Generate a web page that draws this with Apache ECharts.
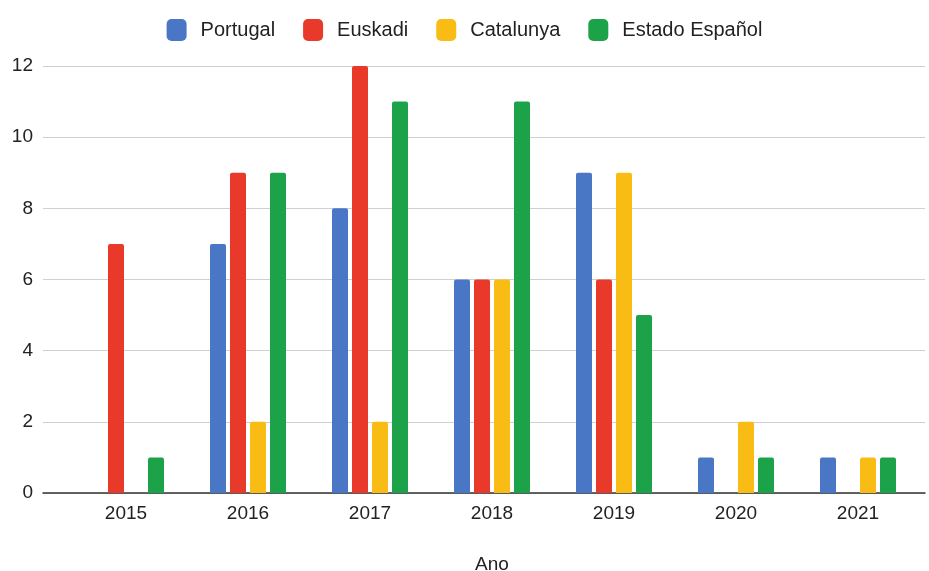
<!DOCTYPE html>
<html><head><meta charset="utf-8">
<script src="https://cdn.jsdelivr.net/npm/echarts@6/dist/echarts.min.js"></script>
<style>html,body{margin:0;padding:0;background:#fff}#c{width:929px;height:571px}</style>
</head><body><div id="c"></div>
<script>
const categories = ['2015','2016','2017','2018','2019','2020','2021'];
const portugal = [0,7,8,6,9,1,1];
const euskadi = [7,9,12,6,6,0,0];
const catalunya = [0,2,2,6,9,2,1];
const estado = [1,9,11,11,5,1,1];
const seriesNames = ['Portugal','Euskadi','Catalunya','Estado Español'];
const colors = ['#4A76C6','#E8392B','#F9BC15','#1CA34A'];
const yTicks = {min:0, max:12, interval:2};

const chart = echarts.init(document.getElementById('c'), null, {renderer:'canvas'});
const font = 'Liberation Sans, Arial, sans-serif';
const mk = (name, data, i) => ({
  name, type:'bar', data: data.map(v => v === 0 ? null : v), xAxisIndex:1, yAxisIndex:1,
  barWidth:16, barGap:'25%', itemStyle:{color:colors[i], borderRadius:[2,2,0,0]}
});
chart.setOption({
  animation:false,
  color: colors,
  textStyle:{fontFamily:font},
  legend:{
    top:14, left:'center', itemWidth:20, itemHeight:22, itemGap:28,
    icon:'roundRect',
    textStyle:{fontSize:20, color:'#222', fontFamily:font, padding:[0,0,0,9]},
    data: seriesNames
  },
  grid:[
    {left:43, right:4, top:66, bottom:78, outerBoundsMode:'none', containLabel:false},
    {left:65, right:10, top:66, bottom:78, outerBoundsMode:'none', containLabel:false}
  ],
  xAxis:[
    {type:'value', gridIndex:0, min:0, max:1, axisLabel:{show:false}, axisTick:{show:false}, splitLine:{show:false},
     axisLine:{show:true, lineStyle:{color:'#333', width:1.5}}},
    {type:'category', gridIndex:1, data:categories, axisTick:{show:false}, axisLine:{show:false},
     axisLabel:{fontSize:19, color:'#222', margin:11, fontFamily:font},
     name:'Ano', nameLocation:'middle', nameGap:62, nameTextStyle:{fontSize:19, color:'#222', fontFamily:font}}
  ],
  yAxis:[
    {type:'value', gridIndex:0, min:yTicks.min, max:yTicks.max, interval:yTicks.interval,
     axisLine:{show:false}, axisTick:{show:false},
     axisLabel:{fontSize:19, color:'#222', margin:10, fontFamily:font},
     splitLine:{lineStyle:{color:'#D0D0D0', width:1}}},
    {type:'value', gridIndex:1, min:yTicks.min, max:yTicks.max, interval:yTicks.interval,
     show:false, splitLine:{show:false}}
  ],
  series:[
    mk(seriesNames[0], portugal, 0),
    mk(seriesNames[1], euskadi, 1),
    mk(seriesNames[2], catalunya, 2),
    mk(seriesNames[3], estado, 3)
  ]
});
</script></body></html>
